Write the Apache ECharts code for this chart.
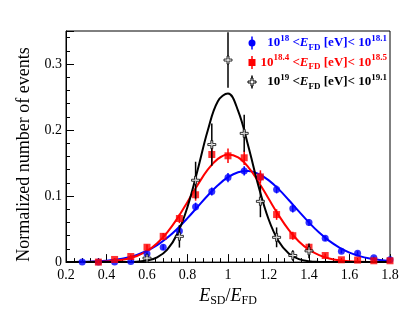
<!DOCTYPE html>
<html>
<head>
<meta charset="utf-8">
<script src="https://cdn.jsdelivr.net/npm/echarts@6/dist/echarts.min.js"></script>
<style>html,body{margin:0;padding:0;background:#fff}#c{width:415px;height:312px}</style>
</head>
<body>
<div id="c"></div>
<script>
// ---- data ----
var binX = [0.28,0.36,0.44,0.52,0.60,0.68,0.76,0.84,0.92,1.00,1.08,1.16,1.24,1.32,1.40,1.48,1.56,1.64,1.72,1.80];
var blueY   = [0.0,0.0,0.0,0.001,0.0125,0.0225,0.047,0.084,0.107,0.128,0.138,0.129,0.110,0.081,0.060,0.036,0.0165,0.0135,0.0065,0.0035];
var blueErr = [0.001,0.001,0.001,0.001,0.003,0.004,0.005,0.006,0.006,0.007,0.007,0.007,0.006,0.006,0.005,0.004,0.003,0.003,0.002,0.002];
var redY    = [null,0.0,0.004,0.0085,0.0225,0.039,0.066,0.102,0.163,0.161,0.158,0.129,0.072,0.040,0.0225,0.010,0.0035,0.003,0.002,0.002];
var redErr  = [0,0.001,0.002,0.003,0.004,0.005,0.007,0.009,0.011,0.011,0.011,0.010,0.008,0.006,0.004,0.003,0.002,0.002,0.001,0.001];
var blackY  = [null,null,null,null,0.006,null,0.039,0.124,0.178,0.306,0.195,0.092,0.0375,0.010,0.017,null,null,null,null,null];
var blackErr= [0,0,0,0,0.004,0,0.017,0.028,0.032,0.042,0.028,0.024,0.015,0.008,0.011,0,0,0,0,0];

var curveX = [0.20,0.25,0.30,0.35,0.40,0.45,0.50,0.55,0.60,0.65,0.70,0.75,0.80,0.85,0.90,0.95,1.00,1.05,1.10,1.15,1.20,1.25,1.30,1.35,1.40,1.45,1.50,1.55,1.60,1.65,1.70,1.75,1.80];
var blueFit = [0.0001,0.0003,0.0006,0.0012,0.0022,0.0039,0.0067,0.0110,0.0172,0.0257,0.0369,0.0506,0.0665,0.0837,0.1009,0.1164,0.1286,0.1361,0.1379,0.1337,0.1242,0.1105,0.0941,0.0767,0.0599,0.0448,0.0321,0.0220,0.0144,0.0091,0.0055,0.0031,0.0017];
var redFit  = [0.0,0.0001,0.0002,0.0004,0.0010,0.0023,0.0048,0.0093,0.0168,0.0285,0.0450,0.0662,0.0911,0.1169,0.1399,0.1563,0.1630,0.1585,0.1438,0.1218,0.0963,0.0710,0.0488,0.0313,0.0188,0.0105,0.0055,0.0027,0.0012,0.0005,0.0002,0.0001,0.0];
var blackFit= [0,0,0,0,0,0,0.0001,0.0006,0.0023,0.0071,0.0189,0.0429,0.0836,0.1394,0.1992,0.2436,0.2552,0.2290,0.1759,0.1158,0.0653,0.0315,0.0130,0.0046,0.0014,0.0003,0,0,0,0,0,0,0];

var xTicks = {min:0.2, max:1.8, interval:0.2};
var yTicks = {min:0, max:0.35, minorStep:0.02, majorStep:0.1};

var legendLabels = [
  '{n|10}{sup|18}{n| <}{i|E}{sub|FD}{n| [eV]< 10}{sup|18.1}',
  '{n|10}{sup|18.4}{n| <}{i|E}{sub|FD}{n| [eV]< 10}{sup|18.5}',
  '{n|10}{sup|19}{n| <}{i|E}{sub|FD}{n| [eV]< 10}{sup|19.1}'
];
var colors = ['#0000ff', '#ff0000', '#000000'];

// ---- build ----
var FONT = 'Liberation Serif';
function pts(xs, ys, es) {
  var out = [];
  for (var i = 0; i < xs.length; i++) if (ys[i] !== null) out.push(es ? [xs[i], ys[i], es[i]] : [xs[i], ys[i]]);
  return out;
}
function curve(ys) { return curveX.map(function (x, i) { return [x, ys[i]]; }); }
function errSeries(data, color, z) {
  return {
    type: 'custom', data: data, z: z, silent: true,
    renderItem: function (params, api) {
      var x = api.value(0), y = api.value(1), e = api.value(2);
      var p1 = api.coord([x, y + e]), p2 = api.coord([x, y - e]);
      return { type: 'line', shape: { x1: p1[0], y1: p1[1], x2: p2[0], y2: p2[1] },
               style: { stroke: color, lineWidth: 1.5 } };
    }
  };
}
var crossPath = 'path://M3,0 L5,0 L5,3 L8,3 L8,5 L5,5 L5,8 L3,8 L3,5 L0,5 L0,3 L3,3 Z';

var richLegend = function (color) {
  return {
    n:   { fontFamily: FONT, fontSize: 13, fontWeight: 'bold', fill: color, lineHeight: 18 },
    i:   { fontFamily: FONT, fontSize: 13, fontWeight: 'bold', fontStyle: 'italic', fill: color, lineHeight: 18 },
    sup: { fontFamily: FONT, fontSize: 9, fontWeight: 'bold', fill: color, lineHeight: 10, verticalAlign: 'top' },
    sub: { fontFamily: FONT, fontSize: 9, fontWeight: 'bold', fill: color, lineHeight: 10, verticalAlign: 'bottom' }
  };
};
var legY = [43, 62.5, 82];
var legMarkX = 252;
var graphics = [];
legendLabels.forEach(function (t, k) {
  graphics.push({ type: 'line', shape: { x1: legMarkX, y1: legY[k] - 6.5, x2: legMarkX, y2: legY[k] + 6.5 },
                  style: { stroke: colors[k], lineWidth: 1.5 }, z: 100 });
  if (k === 0) graphics.push({ type: 'circle', shape: { cx: legMarkX, cy: legY[k], r: 3.5 }, style: { fill: colors[k] }, z: 101 });
  if (k === 1) graphics.push({ type: 'rect', shape: { x: legMarkX - 3.5, y: legY[k] - 3.5, width: 7, height: 7 }, style: { fill: colors[k] }, z: 101 });
  if (k === 2) graphics.push({ type: 'polygon', shape: { points: [[-1,-4],[1,-4],[1,-1],[4,-1],[4,1],[1,1],[1,4],[-1,4],[-1,1],[-4,1],[-4,-1],[-1,-1]].map(function(p){return [legMarkX+p[0], legY[k]+p[1]];}) },
                  style: { fill: '#fff', stroke: '#000', lineWidth: 1 }, z: 101 });
  graphics.push({ type: 'text', x: 387, y: legY[k], z: 101,
                  style: { text: t, align: 'right', verticalAlign: 'middle', fill: colors[k], rich: richLegend(colors[k]) } });
});

var axisLabelStyle = { fontFamily: FONT, fontSize: 14, color: '#000' };
var option = {
  backgroundColor: '#fff',
  animation: false,
  grid: { left: 66, right: 25, top: 31, bottom: 47, show: true, borderColor: '#000', borderWidth: 1, backgroundColor: 'transparent' },
  xAxis: {
    type: 'value', min: xTicks.min, max: xTicks.max, interval: xTicks.interval,
    axisLine: { lineStyle: { color: '#000', width: 1 } },
    axisTick: { inside: true, length: 8, lineStyle: { color: '#000' } },
    minorTick: { show: true, splitNumber: 5, length: 4, lineStyle: { color: '#000' } },
    splitLine: { show: false },
    axisLabel: Object.assign({ margin: 6 }, axisLabelStyle),
    name: '{i|E}{sub|SD}{n|/}{i|E}{sub|FD}', nameLocation: 'middle', nameGap: 13,
    nameTextStyle: { rich: {
      i: { fontFamily: FONT, fontSize: 18, fontStyle: 'italic', color: '#000', lineHeight: 22 },
      n: { fontFamily: FONT, fontSize: 18, color: '#000', lineHeight: 22 },
      sub: { fontFamily: FONT, fontSize: 12, color: '#000', lineHeight: 10, verticalAlign: 'bottom' }
    } }
  },
  yAxis: [{
    type: 'value', min: yTicks.min, max: yTicks.max, interval: yTicks.minorStep,
    axisLine: { lineStyle: { color: '#000', width: 1 } },
    axisTick: { inside: true, length: 4, lineStyle: { color: '#000' } },
    splitLine: { show: false },
    axisLabel: Object.assign({ margin: 4, showMaxLabel: false, formatter: function (v) {
      var r = v / yTicks.majorStep;
      return Math.abs(r - Math.round(r)) < 1e-6 ? String(Math.round(r) / 10) : '';
    } }, axisLabelStyle),
    name: 'Normalized number of events', nameLocation: 'middle', nameGap: 22,
    nameTextStyle: { fontFamily: FONT, fontSize: 18, color: '#000', padding: [0, 16, 0, 0] }
  }, {
    type: 'value', min: yTicks.min, max: yTicks.max, interval: yTicks.majorStep, position: 'left',
    axisLine: { show: false },
    axisTick: { inside: true, length: 8, lineStyle: { color: '#000' } },
    axisLabel: { show: false }, splitLine: { show: false }
  }],
  graphic: graphics,
  series: [
    { type: 'line', data: curve(blueFit), smooth: 0.4, showSymbol: false, lineStyle: { color: colors[0], width: 2 }, z: 2, silent: true },
    { type: 'line', data: curve(redFit), smooth: 0.4, showSymbol: false, lineStyle: { color: colors[1], width: 2 }, z: 2, silent: true },
    { type: 'line', data: curve(blackFit), smooth: 0.4, showSymbol: false, lineStyle: { color: colors[2], width: 2 }, z: 2, silent: true },
    errSeries(pts(binX, blueY, blueErr), colors[0], 3),
    { type: 'scatter', data: pts(binX, blueY), symbol: 'circle', symbolSize: 7, itemStyle: { color: colors[0] }, z: 4 },
    errSeries(pts(binX, redY, redErr), colors[1], 5),
    { type: 'scatter', data: pts(binX, redY), symbol: 'rect', symbolSize: 7, itemStyle: { color: colors[1] }, z: 6 },
    errSeries(pts(binX, blackY, blackErr), colors[2], 7),
    { type: 'scatter', data: pts(binX, blackY), symbol: crossPath, symbolSize: 8, itemStyle: { color: '#fff', borderColor: '#000', borderWidth: 1 }, z: 8 }
  ]
};
var chart = echarts.init(document.getElementById('c'), null, { renderer: 'canvas' });
chart.setOption(option);
</script>
</body>
</html>
